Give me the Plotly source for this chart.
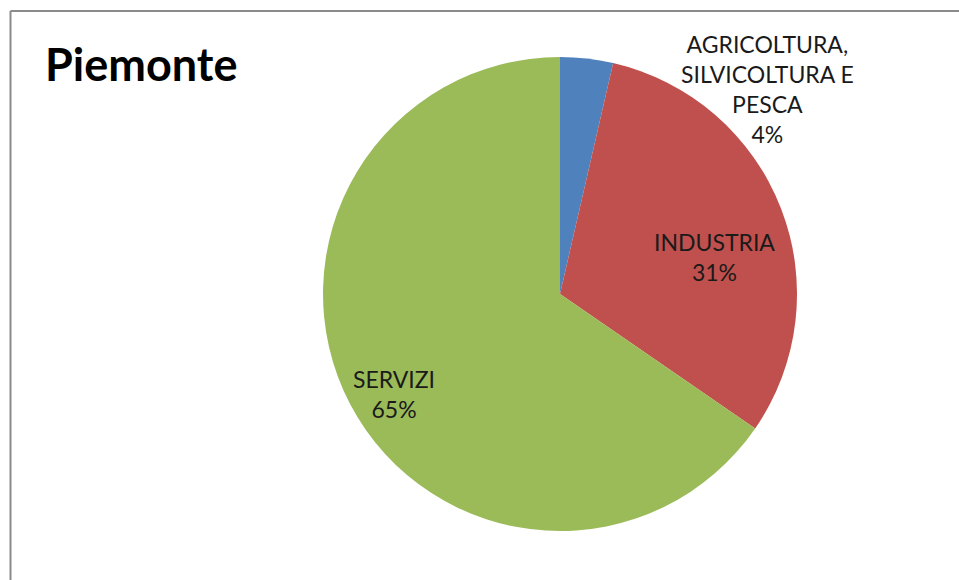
import plotly.graph_objects as go

title = "Piemonte"
labels = ["AGRICOLTURA,<br>SILVICOLTURA E<br>PESCA", "INDUSTRIA", "SERVIZI"]
values = [3.6, 31.0, 65.4]
colors = ["#4F81BD", "#C0504D", "#9BBB59"]

W, H = 959, 580
cx, cy, r = 560, 294, 237

fig = go.Figure(go.Pie(
    labels=labels, values=values, sort=False, direction="clockwise", rotation=0,
    marker=dict(colors=colors, line=dict(width=0)),
    textinfo="none", hoverinfo="label+percent", showlegend=False,
    domain=dict(x=[(cx - r) / W, (cx + r) / W], y=[(H - cy - r) / H, (H - cy + r) / H]),
))

total = sum(values)
label_pos = [(767, 89), (714, 257), (394, 394)]
for lab, v, (x, y) in zip(labels, values, label_pos):
    fig.add_annotation(
        x=x / W, y=1 - y / H, xref="paper", yref="paper",
        text=f"{lab}<br>{round(100 * v / total)}%", showarrow=False,
        xanchor="center", yanchor="middle", align="center",
        font=dict(family="Lato, sans-serif", size=23, color="#1a1a1a"),
    )

fig.add_annotation(
    x=43 / W, y=1 - 64 / H, xref="paper", yref="paper", text=f"<b>{title}</b>",
    showarrow=False, xanchor="left", yanchor="middle",
    font=dict(family="Lato, sans-serif", size=45, color="#000000"),
)

bx, by = 10.5 / W, 1 - 11 / H
border = dict(color="#8a8a8a", width=2)
fig.add_shape(type="line", xref="paper", yref="paper", x0=bx, x1=bx, y0=0, y1=by, line=border)
fig.add_shape(type="line", xref="paper", yref="paper", x0=bx, x1=1, y0=by, y1=by, line=border)

fig.update_layout(
    width=W, height=H, margin=dict(l=0, r=0, t=0, b=0),
    paper_bgcolor="white", plot_bgcolor="white",
)

fig.write_html("out.html", config={"displayModeBar": False},
               post_script="document.body.style.margin='0';document.body.style.overflow='hidden';document.documentElement.style.overflow='hidden';")
